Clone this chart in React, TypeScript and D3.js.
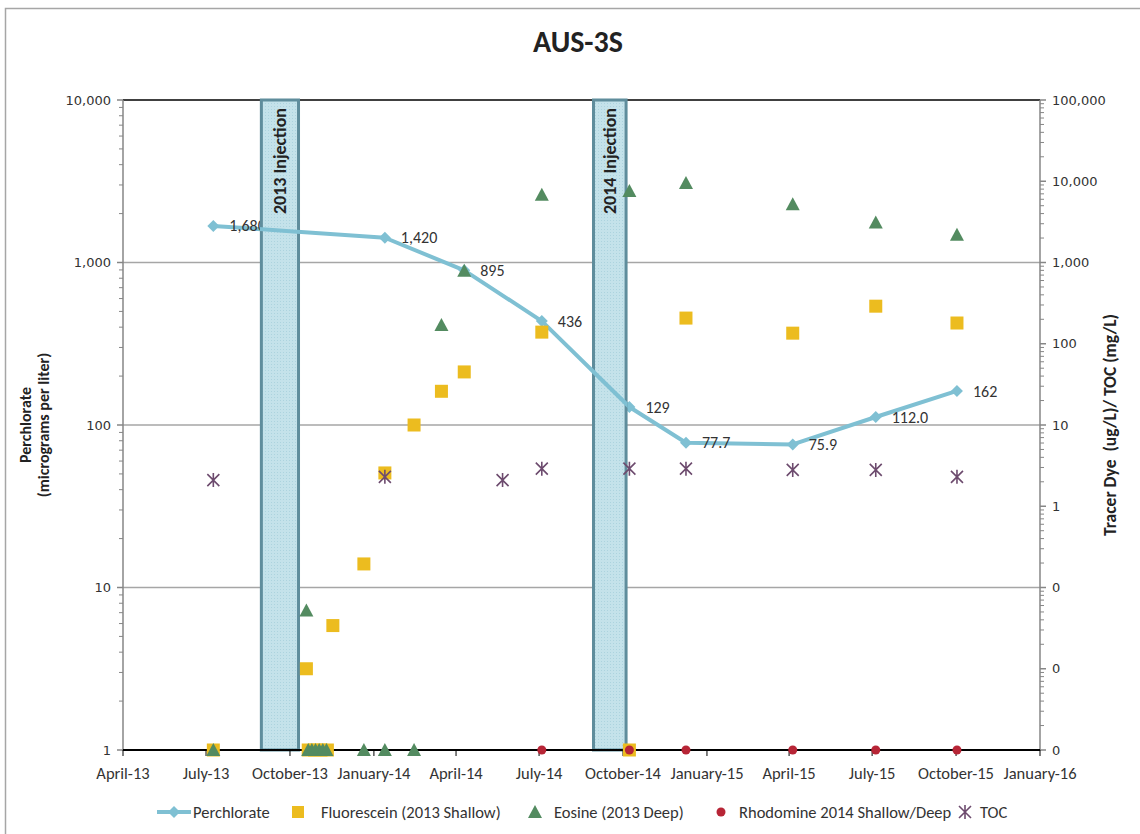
import React, { useEffect, useRef } from 'react';
import * as d3 from 'd3';

// Perchlorate (primary axis, ug/L)
const perchlorateDates = ["2013-07-09", "2014-01-13", "2014-04-10", "2014-07-04", "2014-10-08", "2014-12-09", "2015-04-05", "2015-07-05", "2015-10-02"];
const perchlorateValues = [1680, 1420, 895, 436, 129, 77.7, 75.9, 112.0, 162];
const perchlorateLabels = ["1,680", "1,420", "895", "436", "129", "77.7", "75.9", "112.0", "162"];

// Tracer dyes / TOC (secondary axis); non-detects plotted on the axis floor
const fluoresceinDates = ["2013-07-09", "2013-10-19", "2013-10-21", "2013-10-28", "2013-11-04", "2013-11-11", "2013-11-17", "2013-12-21", "2014-01-13", "2014-02-14", "2014-03-16", "2014-04-10", "2014-07-04", "2014-10-08", "2014-12-09", "2015-04-05", "2015-07-05", "2015-10-02"];
const fluoresceinValues = [0.001, 0.01, 0.001, 0.001, 0.001, 0.001, 0.034, 0.195, 2.57, 10, 26, 45, 139, 0.001, 207, 135, 290, 180];

const eosineDates = ["2013-07-09", "2013-10-19", "2013-10-21", "2013-10-25", "2013-10-29", "2013-11-02", "2013-11-06", "2013-11-10", "2013-12-21", "2014-01-13", "2014-02-14", "2014-03-16", "2014-04-10", "2014-07-04", "2014-10-08", "2014-12-09", "2015-04-05", "2015-07-05", "2015-10-02"];
const eosineValues = [0.001, 0.052, 0.001, 0.001, 0.001, 0.001, 0.001, 0.001, 0.001, 0.001, 0.001, 170, 790, 6800, 7600, 9500, 5200, 3100, 2200];

const rhodamineDates = ["2014-07-04", "2014-10-08", "2014-12-09", "2015-04-05", "2015-07-05", "2015-10-02"];
const rhodamineValues = [0.001, 0.001, 0.001, 0.001, 0.001, 0.001];

const tocDates = ["2013-07-09", "2014-01-13", "2014-05-22", "2014-07-04", "2014-10-08", "2014-12-09", "2015-04-05", "2015-07-05", "2015-10-02"];
const tocValues = [2.1, 2.3, 2.1, 2.9, 2.9, 2.9, 2.8, 2.8, 2.3];

const injections = [
  { label: "2013 Injection", start: "2013-08-29", end: "2013-10-12" },
  { label: "2014 Injection", start: "2014-08-28", end: "2014-10-06" },
];

const xTickDates = ["2013-04-01", "2013-07-01", "2013-10-01", "2014-01-01", "2014-04-01", "2014-07-01", "2014-10-01", "2015-01-01", "2015-04-01", "2015-07-01", "2015-10-01", "2016-01-01"];
const leftTicks = [1, 10, 100, 1000, 10000];
const rightTicks = [0.001, 0.01, 0.1, 1, 10, 100, 1000, 10000, 100000];

const parse = d3.timeParse("%Y-%m-%d");
const FONT = "Carlito, Lato, 'Open Sans', sans-serif";
const NUM_FONT = "'DejaVu Sans', Verdana, sans-serif";
const C_PER = "#7fc0d3";
const C_FLU = "#ecbc1f";
const C_EOS = "#538b60";
const C_RHO = "#b72536";
const C_TOC = "#6d4b6e";

export default function App() {
  const svgRef = useRef<SVGSVGElement>(null);

  useEffect(() => {
    if (!svgRef.current) return;
    const svg = d3.select(svgRef.current);
    svg.selectAll("*").remove();

    const left = 123, right = 1040, top = 100, bottom = 750;

    const x = d3.scaleTime()
      .domain([parse("2013-04-01") as Date, parse("2016-01-01") as Date])
      .range([left, right]);
    const y = d3.scaleLog().domain([1, 10000]).range([bottom, top]);
    const y2 = d3.scaleLog().domain([0.001, 100000]).range([bottom, top]);

    // chart frame
    svg.append("rect")
      .attr("x", 5.5).attr("y", 8.5).attr("width", 1200).attr("height", 900)
      .attr("fill", "white").attr("stroke", "#a6a6a6").attr("stroke-width", 1.5);

    const defs = svg.append("defs");
    const pat = defs.append("pattern")
      .attr("id", "dots").attr("width", 3).attr("height", 3)
      .attr("patternUnits", "userSpaceOnUse");
    pat.append("rect").attr("width", 3).attr("height", 3).attr("fill", "#c4e2ea");
    pat.append("rect").attr("x", 1).attr("y", 1).attr("width", 1).attr("height", 1).attr("fill", "#acd3de");

    const barClip = defs.append("clipPath").attr("id", "barclip");
    injections.forEach(inj => {
      const x0 = x(parse(inj.start) as Date), x1 = x(parse(inj.end) as Date);
      barClip.append("rect").attr("x", x0).attr("y", top).attr("width", x1 - x0).attr("height", bottom - top);
    });

    // title
    svg.append("text")
      .attr("x", 578).attr("y", 52)
      .attr("text-anchor", "middle")
      .attr("font-family", FONT).attr("font-weight", "bold").attr("font-size", 30)
      .attr("fill", "#222").text("AUS-3S");

    // gridlines
    [10, 100, 1000].forEach(v => {
      svg.append("line")
        .attr("x1", left).attr("x2", right).attr("y1", y(v)).attr("y2", y(v))
        .attr("stroke", "#a6a6a6").attr("stroke-width", 1.5);
    });
    svg.append("line").attr("x1", left).attr("x2", right).attr("y1", top).attr("y2", top)
      .attr("stroke", "#000").attr("stroke-width", 1.5);

    // left axis
    svg.append("line").attr("x1", left).attr("x2", left).attr("y1", top).attr("y2", bottom)
      .attr("stroke", "#868686").attr("stroke-width", 1.5);
    for (let d = 1; d < 10000; d *= 10) {
      for (let m = 2; m <= 9; m++) {
        svg.append("line").attr("x1", left - 4).attr("x2", left)
          .attr("y1", y(d * m)).attr("y2", y(d * m)).attr("stroke", "#868686");
      }
    }
    leftTicks.forEach(v => {
      svg.append("line").attr("x1", left - 6).attr("x2", left).attr("y1", y(v)).attr("y2", y(v))
        .attr("stroke", "#868686").attr("stroke-width", 1.5);
      svg.append("text")
        .attr("x", left - 12).attr("y", y(v)).attr("dy", "0.35em")
        .attr("text-anchor", "end")
        .attr("font-family", NUM_FONT).attr("font-size", 13).attr("fill", "#333")
        .text(d3.format(",")(v));
    });
    const lt = svg.append("text")
      .attr("transform", `translate(31,425) rotate(-90)`)
      .attr("text-anchor", "middle")
      .attr("font-family", FONT).attr("font-weight", "bold").attr("font-size", 16).attr("fill", "#222");
    lt.append("tspan").attr("x", 0).attr("dy", 0).text("Perchlorate");
    lt.append("tspan").attr("x", 0).attr("dy", 18).text("(micrograms per liter)");

    // right axis
    svg.append("line").attr("x1", right).attr("x2", right).attr("y1", top).attr("y2", bottom)
      .attr("stroke", "#868686").attr("stroke-width", 1.5);
    for (let d = 0.001; d < 100000; d *= 10) {
      for (let m = 2; m <= 9; m++) {
        svg.append("line").attr("x1", right).attr("x2", right + 4)
          .attr("y1", y2(d * m)).attr("y2", y2(d * m)).attr("stroke", "#868686");
      }
    }
    rightTicks.forEach(v => {
      svg.append("line").attr("x1", right).attr("x2", right + 6).attr("y1", y2(v)).attr("y2", y2(v))
        .attr("stroke", "#868686").attr("stroke-width", 1.5);
      svg.append("text")
        .attr("x", right + 12).attr("y", y2(v)).attr("dy", "0.35em")
        .attr("font-family", NUM_FONT).attr("font-size", 13).attr("fill", "#333")
        .text(d3.format(",.0f")(v));
    });
    svg.append("text")
      .attr("transform", `translate(1116,425) rotate(-90)`)
      .attr("text-anchor", "middle")
      .attr("font-family", FONT).attr("font-weight", "bold").attr("font-size", 17.5).attr("fill", "#222")
      .attr("xml:space", "preserve")
      .text("Tracer Dye  (ug/L)/ TOC (mg/L)");

    const perPts = perchlorateDates.map((s, i) => ({ d: parse(s) as Date, v: perchlorateValues[i], l: perchlorateLabels[i] }));
    const perLine = d3.line<any>().x(p => x(p.d)).y(p => y(p.v));
    const diamond = "M0,-6L6,0L0,6L-6,0Z";

    // perchlorate line + diamonds
    svg.append("path")
      .datum(perPts)
      .attr("d", perLine)
      .attr("fill", "none").attr("stroke", C_PER).attr("stroke-width", 4)
      .attr("stroke-linejoin", "round");
    svg.selectAll(".per").data(perPts).enter().append("path")
      .attr("transform", p => `translate(${x(p.d)},${y(p.v)})`)
      .attr("d", diamond).attr("fill", C_PER);

    // perchlorate data labels (over the line, under the injection bars)
    perPts.forEach(p => {
      svg.append("text")
        .attr("x", x(p.d) + 16).attr("y", y(p.v)).attr("dy", "0.35em")
        .attr("font-family", FONT).attr("font-size", 16).attr("fill", "#333")
        .text(p.l);
    });

    // injection periods
    injections.forEach(inj => {
      const x0 = x(parse(inj.start) as Date), x1 = x(parse(inj.end) as Date);
      svg.append("rect")
        .attr("x", x0 + 1.5).attr("y", top).attr("width", x1 - x0 - 3).attr("height", bottom - top)
        .attr("fill", "url(#dots)").attr("stroke", "#5f8d9c").attr("stroke-width", 3);
    });
    // line stays visible across the bars
    svg.append("path")
      .datum(perPts)
      .attr("d", perLine)
      .attr("clip-path", "url(#barclip)")
      .attr("fill", "none").attr("stroke", C_PER).attr("stroke-width", 4)
      .attr("stroke-linejoin", "round");

    // x axis
    svg.append("line").attr("x1", left).attr("x2", right).attr("y1", bottom).attr("y2", bottom)
      .attr("stroke", "#000").attr("stroke-width", 2);
    xTickDates.forEach(s => {
      const d = parse(s) as Date;
      svg.append("line").attr("x1", x(d)).attr("x2", x(d)).attr("y1", bottom).attr("y2", bottom + 6)
        .attr("stroke", "#000").attr("stroke-width", 1);
      svg.append("text")
        .attr("x", x(d)).attr("y", 779).attr("text-anchor", "middle")
        .attr("font-family", FONT).attr("font-size", 16.5).attr("fill", "#333")
        .text(d3.timeFormat("%B-%y")(d));
    });

    // injection labels
    injections.forEach(inj => {
      const x0 = x(parse(inj.start) as Date), x1 = x(parse(inj.end) as Date);
      svg.append("text")
        .attr("transform", `translate(${(x0 + x1) / 2},${top + 8}) rotate(-90)`)
        .attr("text-anchor", "end").attr("dy", "0.35em")
        .attr("font-family", FONT).attr("font-weight", "bold").attr("font-size", 18).attr("fill", "#222")
        .text(inj.label);
    });

    // fluorescein squares
    fluoresceinDates.forEach((s, i) => {
      const px = x(parse(s) as Date), py = y2(fluoresceinValues[i]);
      svg.append("rect").attr("x", px - 6.5).attr("y", py - 6.5).attr("width", 13).attr("height", 13)
        .attr("fill", C_FLU);
    });
    // eosine triangles
    const tri = "M0,-7L7,6L-7,6Z";
    eosineDates.forEach((s, i) => {
      const px = x(parse(s) as Date), py = y2(eosineValues[i]);
      svg.append("path").attr("transform", `translate(${px},${py})`).attr("d", tri).attr("fill", C_EOS);
    });
    // rhodamine circles
    rhodamineDates.forEach((s, i) => {
      svg.append("circle").attr("cx", x(parse(s) as Date)).attr("cy", y2(rhodamineValues[i]))
        .attr("r", 4.5).attr("fill", C_RHO);
    });
    // TOC asterisks
    const star = "M0,-7L0,7M-6,-6L6,6M-6,6L6,-6";
    tocDates.forEach((s, i) => {
      svg.append("path").attr("transform", `translate(${x(parse(s) as Date)},${y2(tocValues[i])})`)
        .attr("d", star).attr("stroke", C_TOC).attr("stroke-width", 1.6).attr("fill", "none");
    });

    // legend
    const ly = 812;
    const lg = svg.append("g").attr("font-family", FONT).attr("font-size", 16.5).attr("fill", "#333");
    lg.append("line").attr("x1", 157).attr("x2", 191).attr("y1", ly).attr("y2", ly)
      .attr("stroke", C_PER).attr("stroke-width", 4);
    lg.append("path").attr("transform", `translate(174,${ly})`).attr("d", diamond).attr("fill", C_PER);
    lg.append("text").attr("x", 193).attr("y", ly).attr("dy", "0.35em").text("Perchlorate");
    lg.append("rect").attr("x", 292).attr("y", ly - 6).attr("width", 12).attr("height", 12).attr("fill", C_FLU);
    lg.append("text").attr("x", 321).attr("y", ly).attr("dy", "0.35em").text("Fluorescein (2013 Shallow)");
    lg.append("path").attr("transform", `translate(535,${ly})`).attr("d", tri).attr("fill", C_EOS);
    lg.append("text").attr("x", 554).attr("y", ly).attr("dy", "0.35em").text("Eosine (2013 Deep)");
    lg.append("circle").attr("cx", 721).attr("cy", ly).attr("r", 4.5).attr("fill", C_RHO);
    lg.append("text").attr("x", 739).attr("y", ly).attr("dy", "0.35em").text("Rhodomine 2014 Shallow/Deep");
    lg.append("path").attr("transform", `translate(965,${ly})`).attr("d", star)
      .attr("stroke", C_TOC).attr("stroke-width", 1.6).attr("fill", "none");
    lg.append("text").attr("x", 980).attr("y", ly).attr("dy", "0.35em").text("TOC");
  }, []);

  return (
    <div style={{ position: 'absolute', left: 0, top: 0 }}>
      <svg ref={svgRef} width={1140} height={834} style={{ display: 'block' }} />
    </div>
  );
}
